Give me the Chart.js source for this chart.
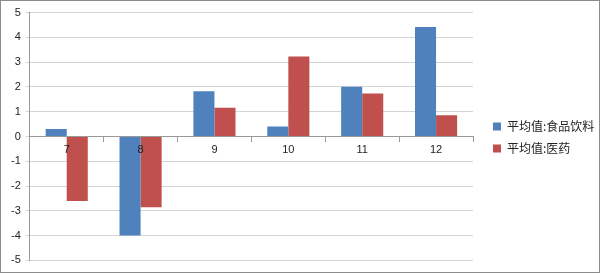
<!DOCTYPE html>
<html>
<head>
<meta charset="utf-8">
<script src="https://cdn.jsdelivr.net/npm/chart.js@4.4.1/dist/chart.umd.min.js"></script>
<style>
  html, body { margin: 0; padding: 0; background: #fff; }
  #wrap { position: relative; width: 598px; height: 271px; border: 1px solid #8c8c8c; }
</style>
</head>
<body>
<div id="wrap"><canvas id="barChart"></canvas></div>
<script>
// categorias (mes)
const months = ["7", "8", "9", "10", "11", "12"];

// valores promedio por sector
const foodDrink = [0.3, -4.0, 1.83, 0.4, 2.01, 4.42];
const pharma = [-2.6, -2.86, 1.16, 3.23, 1.74, 0.86];

const seriesNames = ["平均值:食品饮料", "平均值:医药"];
const yTicks = [-5, -4, -3, -2, -1, 0, 1, 2, 3, 4, 5];

const ctx = document.getElementById("barChart").getContext("2d");
const barChart = new Chart(ctx, {
  type: "bar",
  data: {
    labels: months,
    datasets: [
      {
        label: seriesNames[0],
        data: foodDrink,
        backgroundColor: "#4f81bd",
        categoryPercentage: 0.57,
        barPercentage: 1,
      },
      {
        label: seriesNames[1],
        data: pharma,
        backgroundColor: "#c0504d",
        categoryPercentage: 0.57,
        barPercentage: 1,
      },
    ],
  },
  options: {
    responsive: true,
    maintainAspectRatio: false,
    animation: false,
    layout: { padding: { top: 7, bottom: 5, left: 5, right: 0 } },
    plugins: {
      tooltip: { enabled: false },
      legend: {
        position: "right",
        maxWidth: 116,
        labels: {
          boxWidth: 8,
          boxHeight: 8,
          padding: 10,
          color: "#222",
          font: { family: "'Noto Sans CJK SC', sans-serif", size: 12 },
        },
      },
    },
    scales: {
      x: {
        position: { y: 0 },
        grid: {
          drawOnChartArea: false,
          drawTicks: true,
          tickLength: 5,
          offset: true,
          color: "#999",
        },
        border: { color: "#999" },
        ticks: {
          z: 1,
          color: "#222",
          padding: 2,
          font: { family: "'Liberation Sans', Arial, sans-serif", size: 11 },
        },
      },
      y: {
        min: -5,
        max: 5,
        afterBuildTicks: (axis) => {
          axis.ticks = yTicks.map((v) => ({ value: v }));
        },
        grid: {
          color: "#d4d4d4",
          tickLength: 4,
        },
        border: { color: "#999" },
        ticks: {
          color: "#222",
          padding: 5,
          font: { family: "'Liberation Sans', Arial, sans-serif", size: 11 },
        },
      },
      // espacio vacio entre el grafico y la leyenda
      gap: {
        type: "linear",
        position: "right",
        display: true,
        grid: { display: false },
        border: { display: false },
        ticks: { display: false },
        afterFit: (axis) => {
          axis.width = 10;
        },
      },
    },
  },
});
</script>
</body>
</html>
